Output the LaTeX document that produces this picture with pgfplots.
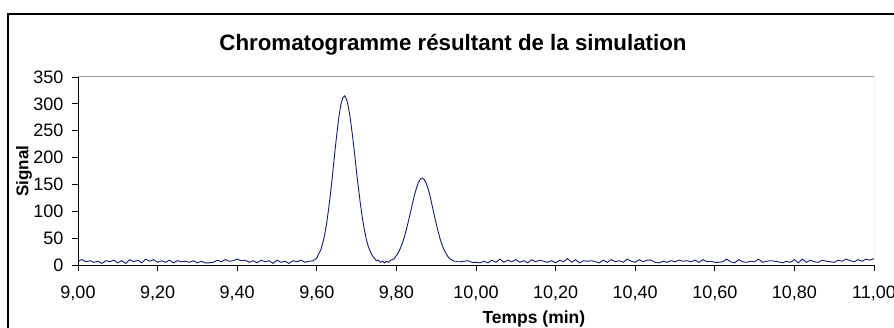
\documentclass[border=0pt]{standalone}
\usepackage{fontspec}
\setmainfont{Liberation Sans}
\usepackage{pgfplots}
\pgfplotsset{compat=1.18}
\definecolor{navyline}{RGB}{20,28,110}
\definecolor{framegray}{RGB}{160,160,160}
\begin{document}
\begin{tikzpicture}[x=1pt,y=1pt]
\useasboundingbox (0,0) rectangle (894,327);
\draw[line width=1.3pt] (8,-5) -- (8,313) -- (900,313);
\node[font=\fontsize{22.3}{26}\selectfont\bfseries] at (453,282) {Chromatogramme résultant de la simulation};
\node[font=\fontsize{17}{20}\selectfont\bfseries, rotate=90] at (24,156) {Signal};
\node[font=\fontsize{17.5}{20}\selectfont\bfseries, anchor=base west] at (479,4) {Temps (min)};
\begin{axis}[
  at={(78pt,62pt)}, anchor=south west,
  scale only axis, width=796pt, height=188pt,
  xmin=9, xmax=11, ymin=0, ymax=350,
  xtick={9,9.2,9.4,9.6,9.8,10,10.2,10.4,10.6,10.8,11},
  ytick={0,50,100,150,200,250,300,350},
  axis lines=left, axis line style={-, black, line width=1pt},
  tick align=outside, major tick length=6pt,
  tick style={black, line width=0.8pt},
  /pgf/number format/assume math mode=true,
  xticklabel style={font=\fontsize{18}{21}\selectfont, anchor=north, yshift=-11pt, /pgf/number format/.cd, fixed, fixed zerofill, precision=2, use comma},
  yticklabel style={font=\fontsize{18}{21}\selectfont, anchor=east, xshift=-5pt, /pgf/number format/.cd, fixed, precision=0},
  clip=true,
]
\addplot[navyline, line width=0.9pt] coordinates {
(9.00,7)(9.01,10)(9.02,6)(9.03,8)(9.04,5)(9.05,7)(9.06,3)(9.07,8)(9.08,6)(9.09,9)
(9.10,4)(9.11,8)(9.12,3)(9.13,10)(9.14,6)(9.15,9)(9.16,4)(9.17,11)(9.18,7)(9.19,10)
(9.20,5)(9.21,8)(9.22,5)(9.23,9)(9.24,4)(9.25,8)(9.26,6)(9.27,7)(9.28,5)(9.29,8)
(9.30,4)(9.31,7)(9.32,4)(9.33,4)(9.34,5)(9.35,9)(9.36,6)(9.37,10)(9.38,7)(9.39,8)
(9.40,11)(9.41,8)(9.42,9)(9.43,5)(9.44,8)(9.45,4)(9.46,9)(9.47,6)(9.48,8)(9.49,3)
(9.50,9)(9.51,5)(9.52,7)(9.53,3)(9.54,8)(9.55,6)(9.56,9)(9.57,5)(9.58,7)
(9.585,7)(9.590,8)(9.595,10)(9.600,13)(9.605,21)(9.610,28)(9.615,41)(9.620,57)
(9.625,79)(9.630,106)(9.635,137)(9.640,171)(9.645,208)(9.650,242)(9.655,273)
(9.660,297)(9.665,311)(9.670,315)(9.675,308)(9.680,292)(9.685,268)(9.690,239)
(9.695,207)(9.700,172)(9.705,141)(9.710,111)(9.715,85)(9.720,64)(9.725,46)
(9.730,33)(9.735,24)(9.740,17)(9.745,12)(9.750,8)(9.755,9)(9.760,5)(9.765,7)
(9.770,4)(9.775,7)(9.780,5)(9.785,9)(9.790,10)(9.795,12)(9.800,18)(9.805,23)
(9.810,31)(9.815,41)(9.820,52)(9.825,66)(9.830,81)(9.835,97)(9.840,113)
(9.845,129)(9.850,142)(9.855,153)(9.860,160)(9.865,162)(9.870,159)(9.875,152)
(9.880,141)(9.885,127)(9.890,110)(9.895,93)(9.900,77)(9.905,62)(9.910,48)
(9.915,37)(9.920,28)(9.925,21)(9.930,15)(9.935,11)(9.940,9)(9.945,7)(9.950,7)(9.955,6)
(9.96,6)(9.97,7)(9.98,8)(9.99,5)(10.00,5)(10.01,4)(10.02,7)(10.03,4)(10.04,9)
(10.05,5)(10.06,11)(10.07,5)(10.08,9)(10.09,6)(10.10,10)(10.11,5)(10.12,8)(10.13,4)
(10.14,10)(10.15,6)(10.16,9)(10.17,7)(10.18,5)(10.19,8)(10.20,4)(10.21,9)(10.22,6)
(10.23,12)(10.24,5)(10.25,10)(10.26,4)(10.27,8)(10.28,7)(10.29,8)(10.30,6)(10.31,4)
(10.32,9)(10.33,5)(10.34,10)(10.35,6)(10.36,8)(10.37,5)(10.38,11)(10.39,7)(10.40,5)
(10.41,10)(10.42,6)(10.43,9)(10.44,9)(10.45,5)(10.46,4)(10.47,7)(10.48,5)(10.49,8)
(10.50,6)(10.51,9)(10.52,7)(10.53,8)(10.54,6)(10.55,9)(10.56,5)(10.57,10)(10.58,6)
(10.59,7)(10.60,5)(10.61,5)(10.62,6)(10.63,11)(10.64,6)(10.65,4)(10.66,10)(10.67,6)
(10.68,5)(10.69,7)(10.70,6)(10.71,11)(10.72,5)(10.73,7)(10.74,8)(10.75,7)(10.76,6)
(10.77,4)(10.78,7)(10.79,5)(10.80,10)(10.81,4)(10.82,11)(10.83,5)(10.84,9)(10.85,6)
(10.86,5)(10.87,9)(10.88,7)(10.89,6)(10.90,5)(10.91,9)(10.92,7)(10.93,11)(10.94,8)
(10.95,6)(10.96,10)(10.97,7)(10.98,11)(10.99,9)(11.00,12)
};
\draw[framegray, line width=1pt] (rel axis cs:0,1) -- (rel axis cs:1,1) -- (rel axis cs:1,0);
\end{axis}
\end{tikzpicture}
\end{document}
